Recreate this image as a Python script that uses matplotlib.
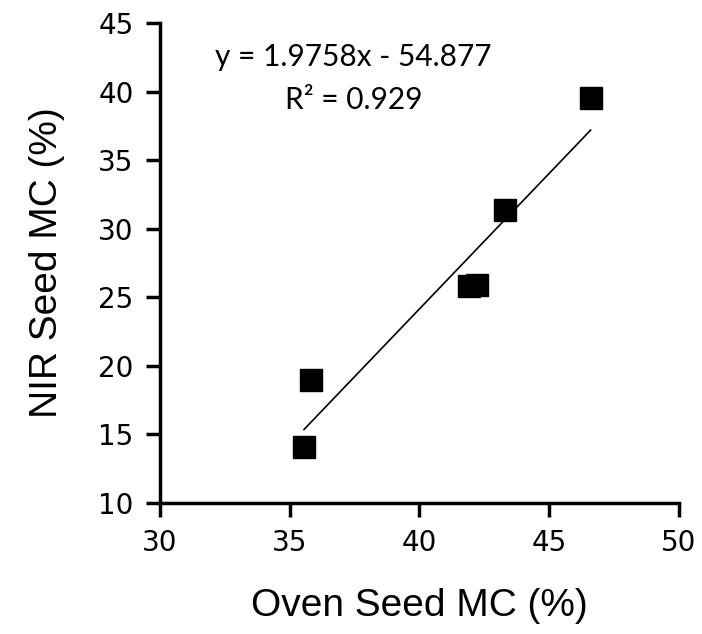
import numpy as np
import matplotlib.pyplot as plt

# oven vs NIR seed moisture content (%)
oven_mc = [35.55, 35.8, 41.9, 42.2, 43.3, 46.6]
nir_mc = [14.1, 19.0, 25.8, 25.9, 31.4, 39.5]
slope, intercept = 1.9758, -54.877
r2 = 0.929

fig = plt.figure(figsize=(7.02, 6.34), dpi=100)
ax = fig.add_axes([0.228, 0.2066, 0.739, 0.757])

ax.plot(oven_mc, nir_mc, linestyle='none', marker='s', markersize=16, color='black')

xfit = np.array([min(oven_mc), max(oven_mc)])
ax.plot(xfit, slope * xfit + intercept, color='black', linewidth=1.2)

ax.text(37.45, 42.5, 'y = %.4fx - %.3f' % (slope, -intercept), ha='center', va='center',
        fontsize=21.5, family='Lato')
ax.text(37.45, 39.4, 'R² = %.3f' % r2, ha='center', va='center',
        fontsize=21.5, family='Lato')

ax.set_xlim(30, 50)
ax.set_ylim(10, 45)
ax.set_xticks(range(30, 51, 5))
ax.set_yticks(range(10, 46, 5))
ax.spines['top'].set_visible(False)
ax.spines['right'].set_visible(False)
for s in ['left', 'bottom']:
    ax.spines[s].set_linewidth(2.5)
ax.tick_params(width=2.5, length=10, labelsize=20, pad=9)
for lab in ax.get_xticklabels() + ax.get_yticklabels():
    lab.set_family('DejaVu Sans')

ax.set_xlabel('Oven Seed MC (%)', fontsize=28, family='Liberation Sans', labelpad=22)
ax.set_ylabel('NIR Seed MC (%)', fontsize=28, family='Liberation Sans', labelpad=24)

fig.savefig('out.png', dpi=100)
